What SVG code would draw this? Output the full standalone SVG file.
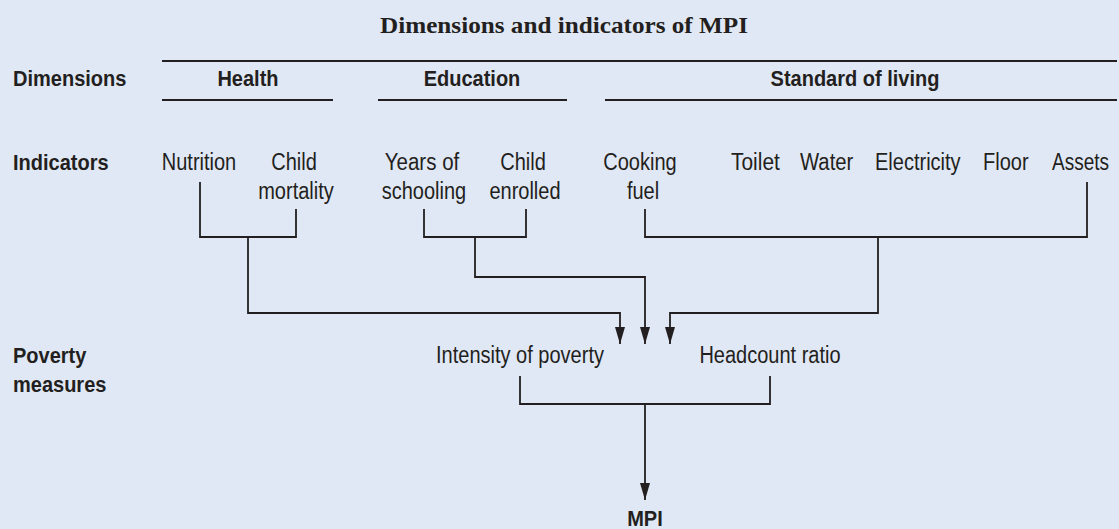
<svg xmlns="http://www.w3.org/2000/svg" width="1119" height="529" viewBox="0 0 1119 529">
  <style>
    .bg { fill: #e1e8f5; }
    .title { font-family: "Liberation Serif", "Times New Roman", serif; font-weight: bold; font-size: 23px; fill: #231f20; }
    .hdr { font-family: "Liberation Sans", Arial, sans-serif; font-weight: bold; font-size: 22px; fill: #231f20; }
    .lbl { font-family: "Liberation Sans", Arial, sans-serif; font-size: 23px; fill: #231f20; }
    .rule { stroke: #231f20; stroke-width: 1.8; fill: none; }
    .conn { stroke: #231f20; stroke-width: 1.8; fill: none; }
    .arr { stroke: #231f20; stroke-width: 1.8; fill: none; marker-end: url(#ah); }
  </style>
  <defs>
    <marker id="ah" viewBox="0 0 17 10" refX="17" refY="5" markerWidth="17" markerHeight="10" markerUnits="userSpaceOnUse" orient="auto">
      <path d="M0,0 L17,5 L0,10 z" fill="#231f20"/>
    </marker>
  </defs>
  <rect class="bg" x="0" y="0" width="1119" height="529"/>

  <g id="title">
    <text class="title" x="380" y="33" textLength="368" lengthAdjust="spacingAndGlyphs">Dimensions and indicators of MPI</text>
  </g>

  <g id="row-labels">
    <text class="hdr" x="13" y="86" textLength="113.4" lengthAdjust="spacingAndGlyphs">Dimensions</text>
    <text class="hdr" x="13" y="170" textLength="95.6" lengthAdjust="spacingAndGlyphs">Indicators</text>
    <text class="hdr" x="13" y="363" textLength="73.4" lengthAdjust="spacingAndGlyphs">Poverty</text>
    <text class="hdr" x="13" y="392" textLength="93.4" lengthAdjust="spacingAndGlyphs">measures</text>
  </g>

  <g id="rules">
    <line class="rule" x1="162" y1="61" x2="1117" y2="61"/>
    <line class="rule" x1="162" y1="100" x2="333" y2="100"/>
    <line class="rule" x1="378" y1="100" x2="567" y2="100"/>
    <line class="rule" x1="605" y1="100" x2="1117" y2="100"/>
  </g>

  <g id="dim-health"><text class="hdr" x="248" y="86" text-anchor="middle" textLength="61.1" lengthAdjust="spacingAndGlyphs">Health</text></g>
  <g id="dim-education"><text class="hdr" x="472" y="86" text-anchor="middle" textLength="96.7" lengthAdjust="spacingAndGlyphs">Education</text></g>
  <g id="dim-living"><text class="hdr" x="855" y="86" text-anchor="middle" textLength="168.9" lengthAdjust="spacingAndGlyphs">Standard of living</text></g>

  <g id="ind-nutrition"><text class="lbl" x="199" y="170" text-anchor="middle" textLength="74.5" lengthAdjust="spacingAndGlyphs">Nutrition</text></g>
  <g id="ind-child-mortality">
    <text class="lbl" x="294" y="170" text-anchor="middle" textLength="45.6" lengthAdjust="spacingAndGlyphs">Child</text>
    <text class="lbl" x="296" y="199" text-anchor="middle" textLength="75.6" lengthAdjust="spacingAndGlyphs">mortality</text>
  </g>
  <g id="ind-years-schooling">
    <text class="lbl" x="422" y="170" text-anchor="middle" textLength="74.5" lengthAdjust="spacingAndGlyphs">Years of</text>
    <text class="lbl" x="424" y="199" text-anchor="middle" textLength="84.5" lengthAdjust="spacingAndGlyphs">schooling</text>
  </g>
  <g id="ind-child-enrolled">
    <text class="lbl" x="523" y="170" text-anchor="middle" textLength="45.6" lengthAdjust="spacingAndGlyphs">Child</text>
    <text class="lbl" x="525" y="199" text-anchor="middle" textLength="71.1" lengthAdjust="spacingAndGlyphs">enrolled</text>
  </g>
  <g id="ind-cooking-fuel">
    <text class="lbl" x="640" y="170" text-anchor="middle" textLength="73.4" lengthAdjust="spacingAndGlyphs">Cooking</text>
    <text class="lbl" x="643" y="199" text-anchor="middle" textLength="32.2" lengthAdjust="spacingAndGlyphs">fuel</text>
  </g>
  <g id="ind-toilet"><text class="lbl" x="731" y="170" textLength="48.9" lengthAdjust="spacingAndGlyphs">Toilet</text></g>
  <g id="ind-water"><text class="lbl" x="800" y="170" textLength="53.3" lengthAdjust="spacingAndGlyphs">Water</text></g>
  <g id="ind-electricity"><text class="lbl" x="875" y="170" textLength="85.6" lengthAdjust="spacingAndGlyphs">Electricity</text></g>
  <g id="ind-floor"><text class="lbl" x="983" y="170" textLength="45.6" lengthAdjust="spacingAndGlyphs">Floor</text></g>
  <g id="ind-assets"><text class="lbl" x="1109" y="170" text-anchor="end" textLength="57" lengthAdjust="spacingAndGlyphs">Assets</text></g>

  <g id="pm-intensity"><text class="lbl" x="520" y="363" text-anchor="middle" textLength="167.9" lengthAdjust="spacingAndGlyphs">Intensity of poverty</text></g>
  <g id="pm-headcount"><text class="lbl" x="770" y="363" text-anchor="middle" textLength="141.2" lengthAdjust="spacingAndGlyphs">Headcount ratio</text></g>

  <g id="mpi"><text class="hdr" x="645" y="526" text-anchor="middle" textLength="35.6" lengthAdjust="spacingAndGlyphs">MPI</text></g>

  <g id="connectors">
    <!-- Health bracket -->
    <polyline class="conn" points="200,182 200,237 296,237 296,209"/>
    <polyline class="arr" points="248,237 248,313 620,313 620,344"/>
    <!-- Education bracket -->
    <polyline class="conn" points="424,209 424,237 526,237 526,209"/>
    <polyline class="arr" points="475,237 475,277 645,277 645,344"/>
    <!-- Standard of living bracket -->
    <polyline class="conn" points="645,209 645,237 1087,237 1087,182"/>
    <polyline class="arr" points="878,237 878,313 670,313 670,344"/>
    <!-- Poverty measures bracket -->
    <polyline class="conn" points="520,376 520,404 770,404 770,376"/>
    <line class="arr" x1="645" y1="404" x2="645" y2="500"/>
  </g>
</svg>
